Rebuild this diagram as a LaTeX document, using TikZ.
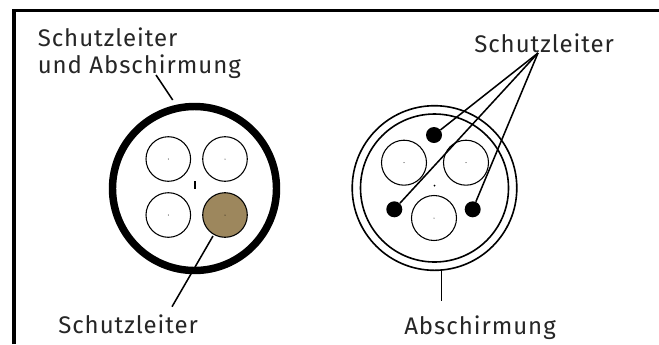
\documentclass[tikz,border=0pt]{standalone}
\usepackage{fontspec}
\setmainfont[LetterSpace=4]{Fira Sans}
\tikzset{
 x=0.75pt,y=-0.75pt,
 lbl/.style={inner sep=0pt,font=\fontsize{18pt}{20pt}\selectfont,text=black!85},
 wire/.style={draw=black,line width=0.8pt,fill=white},
 leader/.style={draw=black,line width=1.15pt},
 pin/.style={circle,fill=black,minimum size=12pt,inner sep=0pt},
}
\begin{document}
\begin{tikzpicture}
\useasboundingbox (0,0) rectangle (659,344);
\fill[white] (0,0) rectangle (659,344);
\draw[line width=2.4pt] (14,344) -- (14,10.8) -- (659,10.8);
\node[lbl,anchor=base west] (t1) at (37.5,46.7) {Schutzleiter};
\node[lbl,anchor=base west] (t2) at (37.5,73.3) {und Abschirmung};
\node[lbl,anchor=base west] (t3) at (58,333) {Schutzleiter};
\node[lbl,anchor=base west] (t4) at (404,334) {Abschirmung};
\node[lbl,anchor=base west] (t5) at (474,52.7) {Schutzleiter};
\coordinate (c1) at (194.5,188.5);
\draw[line width=5.6pt] (c1) circle (82);
\foreach \n/\p in {a/{168.3,159},b/{225,159},d/{168.3,215}}{
 \draw[wire] (\p) circle (22.3);
 \fill (\p) circle (0.5);
}
\draw[wire,fill={rgb,255:red,157;green,135;blue,93}] (225,215) circle (22.3);
\fill (225,215) circle (0.5);
\draw[line width=0.8pt] (195,181) -- (195,189);
\coordinate (e1) at (213,236);
\coordinate (e2) at (172,306.7);
\draw[leader] (e1) -- (e2);
\coordinate (g1) at (156,75);
\coordinate (g2) at (172.7,100);
\draw[leader] (g1) -- (g2);
\coordinate (c2) at (434.5,188);
\draw[line width=1.2pt] (c2) circle (82.3);
\draw[line width=1.2pt] (c2) circle (74);
\foreach \p in {{404,162.7},{466,162.7},{434,218}}{
 \draw[wire] (\p) circle (22.5);
 \fill (\p) circle (0.5);
}
\fill (434.5,185.5) circle (1);
\node[pin] (p1) at (434,135) {};
\node[pin] (p2) at (394.3,209.3) {};
\node[pin] (p3) at (472.7,209.3) {};
\coordinate (h) at (538,53);
\draw[leader] (p1) -- (h);
\draw[leader] (p2) -- (h);
\draw[leader] (p3) -- (h);
\coordinate (s1) at (441.3,270);
\coordinate (s2) at (441.3,300.7);
\draw[leader] (s1) -- (s2);
\end{tikzpicture}
\end{document}
